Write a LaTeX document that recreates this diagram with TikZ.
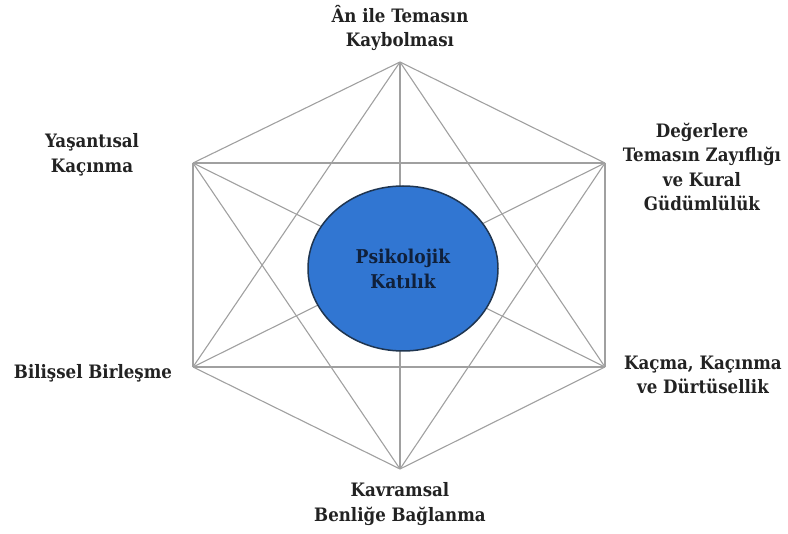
\documentclass[tikz,border=0pt]{standalone}
\usepackage{fontspec}
\setmainfont{DejaVu Serif Condensed}
\usetikzlibrary{shapes.geometric}
\definecolor{edgegray}{HTML}{A0A0A0}
\definecolor{ellblue}{HTML}{3176D2}
\definecolor{ellborder}{HTML}{1F3550}
\definecolor{labeltext}{HTML}{222222}
\definecolor{centertext}{HTML}{10203A}
\begin{document}
\begin{tikzpicture}[x=1pt,y=-1pt,
  edge/.style={draw=edgegray,line width=1.1pt},
  lbl/.style={align=center,font=\bfseries\fontsize{18.5}{24.5}\selectfont,text=labeltext,inner sep=0pt}]
\useasboundingbox (0,0) rectangle (788,534);
\coordinate (T) at (400,62);
\coordinate (UR) at (605,163);
\coordinate (LR) at (605,367);
\coordinate (B) at (400,469);
\coordinate (LL) at (193,367);
\coordinate (UL) at (193,163);
\foreach \a/\b in {T/UR,UR/LR,LR/B,B/LL,LL/UL,UL/T,T/LR,LR/LL,LL/T,UR/B,B/UL,UL/UR,T/B,UR/LL,LR/UL}
  \draw[edge] (\a) -- (\b);
\node[ellipse,draw=ellborder,line width=1.5pt,fill=ellblue,minimum width=190pt,minimum height=165pt,inner sep=0pt,
  align=center,font=\bfseries\fontsize{19}{25}\selectfont,text=centertext] (C) at (403,268.5) {Psikolojik\\Katılık};
\node[lbl] (lT) at (400,28) {Ân ile Temasın\\Kaybolması};
\node[lbl] (lUR) at (702,167) {Değerlere\\Temasın Zayıflığı\\ve Kural\\Güdümlülük};
\node[lbl] (lLR) at (703,375) {Kaçma, Kaçınma\\ve Dürtüsellik};
\node[lbl] (lUL) at (92,155) {Yaşantısal\\Kaçınma};
\node[lbl] (lLL) at (93,373) {Bilişsel Birleşme};
\node[lbl] (lB) at (400,504) {Kavramsal\\Benliğe Bağlanma};
\end{tikzpicture}
\end{document}
